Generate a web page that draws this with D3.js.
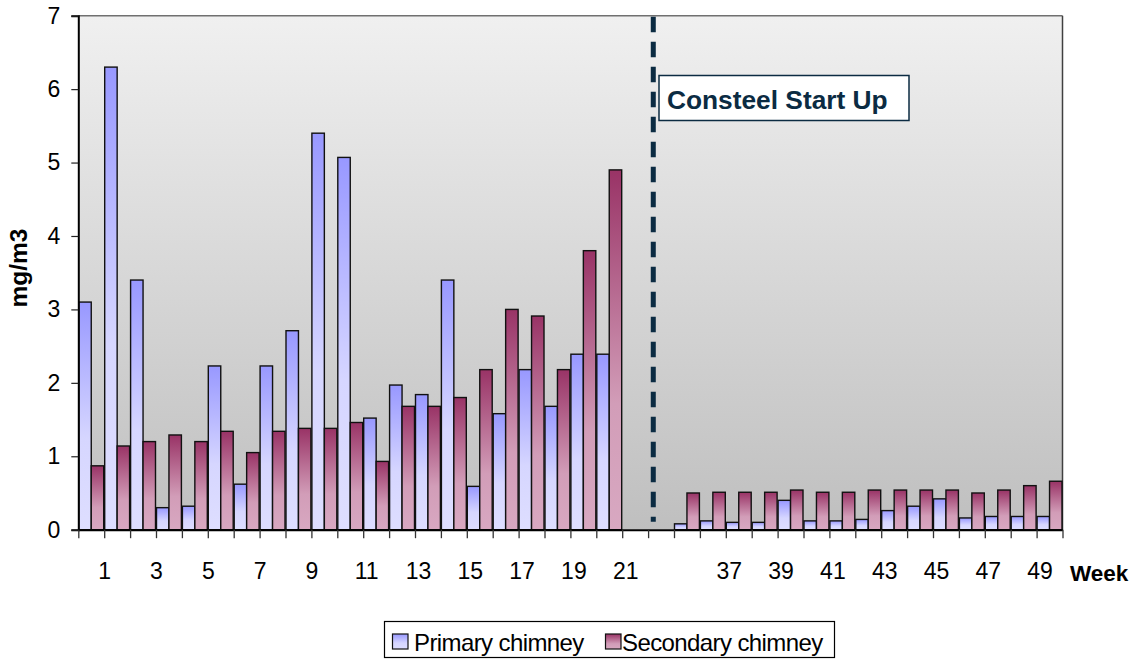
<!DOCTYPE html>
<html>
<head>
<meta charset="utf-8">
<script src="https://cdn.jsdelivr.net/npm/d3@7"></script>
<style>
  html, body { margin: 0; padding: 0; background: #ffffff; }
  svg { display: block; font-family: "Liberation Sans", Arial, sans-serif; }
</style>
</head>
<body>
<svg id="chart" width="1134" height="660"></svg>
<script>
// Weekly dust concentration at the two chimneys (mg/m3)
const weeks = ["1","2","3","4","5","6","7","8","9","10","11","12","13","14","15","16","17","18","19","20","21",
               "","",
               "36","37","38","39","40","41","42","43","44","45","46","47","48","49","50"];
const primary = [3.1, 6.3, 3.4, 0.3, 0.32, 2.23, 0.62, 2.23, 2.71, 5.4, 5.07, 1.52, 1.97, 1.84, 3.4, 0.59, 1.58, 2.18, 1.68, 2.39, 2.39,
                 null, null,
                 0.08, 0.12, 0.1, 0.1, 0.4, 0.12, 0.12, 0.14, 0.26, 0.32, 0.42, 0.16, 0.18, 0.18, 0.18];
const secondary = [0.87, 1.14, 1.2, 1.29, 1.2, 1.34, 1.05, 1.34, 1.38, 1.38, 1.46, 0.93, 1.68, 1.68, 1.8, 2.18, 3.0, 2.91, 2.18, 3.8, 4.9,
                   null, null,
                   0.5, 0.51, 0.51, 0.51, 0.54, 0.51, 0.51, 0.54, 0.54, 0.54, 0.54, 0.5, 0.54, 0.6, 0.66];
const seriesNames = ["Primary chimney", "Secondary chimney"];
const yTicks = [0, 1, 2, 3, 4, 5, 6, 7];
const startUpLabel = "Consteel Start Up";
const startUpPosition = 22.2;   // in category units, inside the gap between the two periods
const yTitle = "mg/m3";
const xTitle = "Week";

const svg = d3.select("#chart");
const plotLeft = 78.3, plotRight = 1062.5, plotTop = 15.7, plotBottom = 529.7;

// Gradients for plot background and bars
const defs = svg.append("defs");
function vGrad(id, stops) {
  const g = defs.append("linearGradient").attr("id", id)
    .attr("x1", 0).attr("y1", 0).attr("x2", 0).attr("y2", 1);
  stops.forEach(([o, c]) => g.append("stop").attr("offset", o).attr("stop-color", c));
}
vGrad("bgGrad", [[0, "#f0f0f0"], [1, "#bfbfbf"]]);
vGrad("priGrad", [[0, "#9898ff"], [0.6, "#d6d6ff"], [1, "#dedeff"]]);
vGrad("secGrad", [[0, "#993366"], [0.65, "#d29db8"], [1, "#d8a8c1"]]);

// Scales
const idx = d3.range(weeks.length);
const x = d3.scaleBand().domain(idx).range([plotLeft, plotRight]).paddingInner(0).paddingOuter(0);
const xTick = d3.scaleLinear().domain([0, weeks.length]).range([plotLeft, plotRight]);
const y = d3.scaleLinear().domain([0, 7]).range([plotBottom, plotTop]);
const inner = d3.scaleBand().domain([0, 1]).range([0, x.bandwidth()]).paddingOuter(0.04).paddingInner(0);

// Plot area
svg.append("rect").attr("x", plotLeft).attr("y", plotTop)
  .attr("width", plotRight - plotLeft).attr("height", plotBottom - plotTop)
  .attr("fill", "url(#bgGrad)");
svg.append("line").attr("x1", plotLeft).attr("x2", plotRight).attr("y1", plotTop).attr("y2", plotTop)
  .attr("stroke", "#707070").attr("stroke-width", 1.5);
svg.append("line").attr("x1", plotRight).attr("x2", plotRight).attr("y1", plotTop).attr("y2", plotBottom)
  .attr("stroke", "#404040").attr("stroke-width", 1.5);

// Bars
const groups = svg.append("g").selectAll("g").data(idx).join("g")
  .attr("transform", i => `translate(${x(i)},0)`);
[[primary, "url(#priGrad)"], [secondary, "url(#secGrad)"]].forEach(([vals, fill], s) => {
  groups.filter(i => vals[i] != null).append("rect")
    .attr("x", inner(s)).attr("width", inner.bandwidth())
    .attr("y", i => y(vals[i])).attr("height", i => y(0) - y(vals[i]))
    .attr("fill", fill).attr("stroke", "#111").attr("stroke-width", 1.4);
});

// Start-up marker
svg.append("line")
  .attr("x1", xTick(startUpPosition)).attr("x2", xTick(startUpPosition))
  .attr("y1", plotTop + 1).attr("y2", plotBottom - 8)
  .attr("stroke", "#0b2b42").attr("stroke-width", 5)
  .attr("stroke-dasharray", "15.5,9.5");
const boxX = 659, boxY = 75.5, boxW = 250, boxH = 45;
svg.append("rect").attr("x", boxX).attr("y", boxY).attr("width", boxW).attr("height", boxH)
  .attr("fill", "#ffffff").attr("stroke", "#0b2b42").attr("stroke-width", 1.5);
svg.append("text").attr("x", boxX + 8).attr("y", boxY + 33)
  .attr("font-size", 26.3).attr("font-weight", "bold").attr("fill", "#0b2b42")
  .text(startUpLabel);

// Y axis
const yAxis = svg.append("g").attr("transform", `translate(${plotLeft},0)`)
  .call(d3.axisLeft(y).tickValues(yTicks).tickFormat(d3.format("d")).tickSize(7).tickPadding(11));
yAxis.select(".domain").attr("stroke", "#000").attr("stroke-width", 2);
yAxis.selectAll(".tick line").attr("stroke", "#222").attr("stroke-width", 1.2);
yAxis.selectAll(".tick text").attr("font-size", 23).attr("fill", "#000")
  .attr("font-family", "Liberation Sans, Arial, sans-serif");

// X axis: ticks at category boundaries, each week label under the tick that closes its category
const xAxis = svg.append("g").attr("transform", `translate(0,${plotBottom})`)
  .call(d3.axisBottom(xTick).tickValues(d3.range(weeks.length + 1))
    .tickFormat(t => (t > 0 && (t - 1) % 2 === 0) ? weeks[t - 1] : "")
    .tickSize(8.5).tickPadding(24).tickSizeOuter(0));
xAxis.select(".domain").attr("stroke", "#000").attr("stroke-width", 2);
xAxis.selectAll(".tick line").attr("stroke", "#333").attr("stroke-width", 1.3);
xAxis.selectAll(".tick text").attr("font-size", 23).attr("fill", "#000")
  .attr("dx", function () { return this.textContent.length > 1 ? 3 : 0; })
  .attr("font-family", "Liberation Sans, Arial, sans-serif");

// Axis titles
svg.append("text").attr("transform", "translate(27,268) rotate(-90)")
  .attr("text-anchor", "middle").attr("font-size", 24.5).attr("font-weight", "bold")
  .text(yTitle);
svg.append("text").attr("x", 1070).attr("y", 581)
  .attr("font-size", 22.5).attr("font-weight", "bold").text(xTitle);

// Legend
const legend = svg.append("g");
legend.append("rect").attr("x", 384.5).attr("y", 621.5).attr("width", 450).attr("height", 36)
  .attr("fill", "#fff").attr("stroke", "#000").attr("stroke-width", 1.2);
const legendItems = [
  { name: seriesNames[0], fill: "url(#priGrad)", sx: 392.5, tx: 414 },
  { name: seriesNames[1], fill: "url(#secGrad)", sx: 605.5, tx: 622 }
];
legendItems.forEach(d => {
  legend.append("rect").attr("x", d.sx).attr("y", 634).attr("width", 15.5).attr("height", 15)
    .attr("fill", d.fill).attr("stroke", "#111").attr("stroke-width", 1.2);
  legend.append("text").attr("x", d.tx).attr("y", 651).attr("font-size", 24)
    .attr("letter-spacing", "-0.6").text(d.name);
});
</script>
</body>
</html>
